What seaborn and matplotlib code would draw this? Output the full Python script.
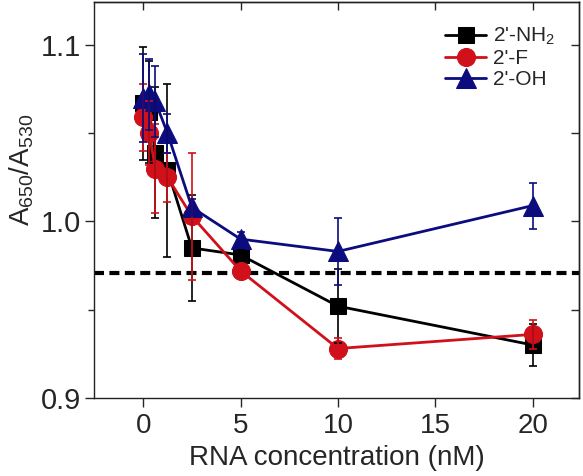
import numpy as np
import pandas as pd
import seaborn as sns
import matplotlib.pyplot as plt

# RNA concentration (nM)
conc = [0, 0.3125, 0.625, 1.25, 2.5, 5, 10, 20]

# A650/A530 ratio for each 2' modification, with error bars
nh2 = [1.067, 1.062, 1.039, 1.029, 0.985, 0.981, 0.952, 0.930]
nh2_err = [0.032, 0.029, 0.037, 0.049, 0.030, 0.003, 0.021, 0.012]
fluoro = [1.059, 1.050, 1.030, 1.025, 1.003, 0.972, 0.928, 0.936]
fluoro_err = [0.019, 0.018, 0.025, 0.014, 0.036, 0.002, 0.006, 0.008]
oh = [1.070, 1.072, 1.068, 1.050, 1.008, 0.990, 0.983, 1.009]
oh_err = [0.025, 0.020, 0.020, 0.011, 0.005, 0.004, 0.019, 0.013]
threshold = 0.971

labels = ["2'-NH$_2$", "2'-F", "2'-OH"]
xticks = [0, 5, 10, 15, 20]
yticks = [0.9, 1.0, 1.1]
yticks_minor = [0.95, 1.05]

colors = ["#000000", "#d0101a", "#0c0c7e"]
markers = ["s", "o", "^"]
msizes = [11.5, 13, 14]

sns.set_style("ticks")
plt.rcParams['font.family'] = ['Liberation Sans', 'DejaVu Sans']
plt.rcParams['mathtext.fontset'] = 'custom'
plt.rcParams['mathtext.rm'] = 'Liberation Sans'
plt.rcParams['mathtext.default'] = 'regular'

fig = plt.figure(figsize=(5.83, 4.76), dpi=100)
ax = fig.add_axes([0.161, 0.164, 0.832, 0.832])

series = [(nh2, nh2_err), (fluoro, fluoro_err), (oh, oh_err)]
for (vals, errs), lab, col, mk, ms in zip(series, labels, colors, markers, msizes):
    df = pd.DataFrame({'conc': conc, 'ratio': vals})
    sns.lineplot(data=df, x='conc', y='ratio', marker=mk, markersize=ms,
                 color=col, markeredgecolor=col, linewidth=2.0, label=lab,
                 ax=ax, zorder=2)
    ax.errorbar(conc, vals, yerr=errs, fmt='none', ecolor=col,
                elinewidth=1.2, capsize=3, capthick=1.2, zorder=3)

ax.axhline(threshold, color='black', lw=3, dashes=(2.4, 1.3), zorder=1)

ax.set_xlim(-2.53, 22.37)
ax.set_ylim(0.9, 1.1244)
ax.set_xticks(xticks)
ax.set_yticks(yticks)
ax.set_yticks(yticks_minor, minor=True)
ax.set_yticklabels([f'{v:.1f}' for v in yticks])

ax.set_xlabel('RNA concentration (nM)', fontsize=20, labelpad=5)
ax.set_ylabel('A$_{650}$/A$_{530}$', fontsize=20)
ax.yaxis.set_label_coords(-0.12, 0.576)
ax.tick_params(axis='x', labelsize=20, length=6.5, width=1, direction='out', pad=4)
ax.tick_params(axis='y', which='major', labelsize=21, length=6.5, width=1, direction='out', pad=3)
ax.tick_params(axis='y', which='minor', length=4, width=1, direction='out')

# inward ticks on top and right
top = ax.secondary_xaxis('top')
top.set_xticks(xticks)
top.tick_params(direction='in', length=6, width=1, labeltop=False)
right = ax.secondary_yaxis('right')
right.set_yticks(yticks + yticks_minor)
right.tick_params(direction='in', length=6, width=1, labelright=False)

for sp in list(ax.spines.values()) + [top.spines['top'], right.spines['right']]:
    sp.set_linewidth(1)
    sp.set_color('#222222')

ax.legend(loc='upper right', bbox_to_anchor=(1.0, 1.0), frameon=False,
          fontsize=15, labelspacing=0.1, handlelength=2.0, handletextpad=0.3,
          borderaxespad=0.75)

fig.savefig('out.png', dpi=100)
